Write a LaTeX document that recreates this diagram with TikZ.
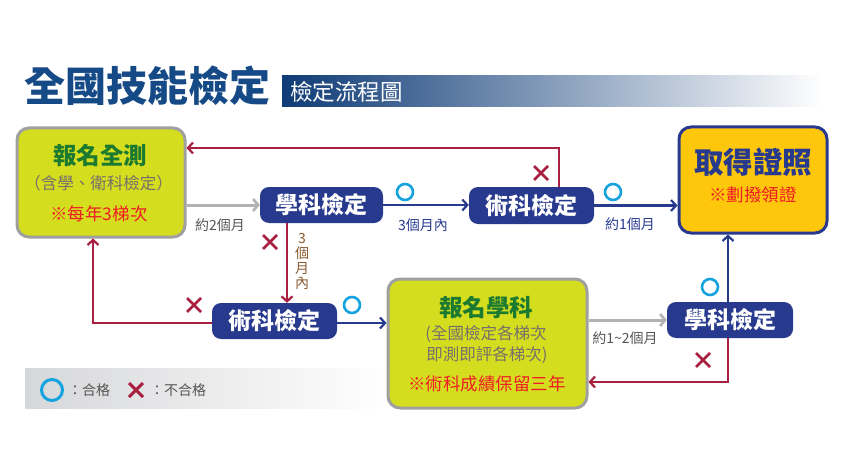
\documentclass[tikz,border=0pt]{standalone}
\usepackage{fontspec}
\setmainfont{Noto Sans CJK TC}
\newfontfamily\heavy{Noto Sans CJK TC Black}
\usetikzlibrary{arrows.meta}
\definecolor{navy}{HTML}{283A8E}
\definecolor{crim}{HTML}{A81F3F}
\definecolor{arrgray}{HTML}{B2B2B2}
\definecolor{cyanc}{HTML}{15A3E0}
\definecolor{lime}{HTML}{D5DD1F}
\definecolor{gold}{HTML}{FEC70C}
\definecolor{titleblue}{HTML}{164A86}
\definecolor{barleft}{HTML}{0E3B76}
\definecolor{barmid}{HTML}{6F89B5}
\definecolor{greentxt}{HTML}{1B7A2F}
\definecolor{redtxt}{HTML}{EE1C25}
\definecolor{subgray}{HTML}{77706A}
\definecolor{lblgray}{HTML}{555555}
\definecolor{brown}{HTML}{8A5A30}
\definecolor{legendgray}{HTML}{D6D7D9}
\newcommand{\fsz}[1]{\fontsize{#1}{#1}\selectfont}
\tikzset{
  bigbox/.style={rectangle, rounded corners=12pt, line width=3pt, inner sep=0pt},
  greenbox/.style={bigbox, draw=arrgray!90!black, fill=lime},
  certbox/.style={bigbox, draw=navy, fill=gold},
  stepbox/.style={rectangle, rounded corners=9pt, fill=navy, text=white, inner sep=0pt,
     minimum height=36pt, minimum width=124pt, font=\fsz{23}\bfseries},
  navyarrow/.style={draw=navy, line width=2.4pt, -{Straight Barb[length=5pt,width=11pt,line width=2.2pt]}},
  redarrow/.style={draw=crim, line width=2.4pt, -{Straight Barb[length=5pt,width=11pt,line width=2.2pt]}},
  grayarrow/.style={draw=arrgray, line width=3pt, -{Straight Barb[length=5pt,width=12pt,line width=2.6pt]}},
  okmark/.style={draw=cyanc, line width=2.6pt},
  lbl/.style={font=\fsz{14}, inner sep=0pt},
}
\newcommand{\failmark}[2]{\draw[crim, line width=2.8pt] (#1-7,#2-7) -- (#1+7,#2+7) (#1-7,#2+7) -- (#1+7,#2-7);}
\begin{document}
\begin{tikzpicture}[x=1pt,y=-1pt]
\useasboundingbox (0,0) rectangle (842,457);
% title
\node[anchor=west, inner sep=0pt, text=titleblue, font=\fsz{41}\heavy] (title) at (24,86) {全國技能檢定};
\shade[left color=barleft, middle color=barmid, right color=white] (282,76) rectangle (823,107);
\node[anchor=west, inner sep=0pt, text=white, font=\fsz{22.5}] (sub) at (290,92) {檢定流程圖};
% legend bar
\shade[left color=legendgray, right color=white] (25,368) rectangle (390,408);
\draw[okmark, line width=3pt] (52,390) circle (10.5pt);
\node[lbl, anchor=west, text=lblgray] (lg1) at (68,390) {：合格};
\draw[crim, line width=3pt] (129,383) -- (143,397) (129,397) -- (143,383);
\node[lbl, anchor=west, text=lblgray] (lg2) at (150,390) {：不合格};
% boxes
\node[greenbox, minimum width=168pt, minimum height=109pt] (b1) at (101,182.5) {};
\node[inner sep=0pt, text=greentxt, font=\fsz{23.5}\bfseries] (b1a) at (100,156) {報名全測};
\node[inner sep=0pt, text=subgray, font=\fsz{16.5}] (b1b) at (98.5,183) {（含學、衛科檢定）};
\node[inner sep=0pt, text=redtxt, font=\fsz{17.5}] (b1c) at (99,214) {※每年3梯次};

\node[certbox, minimum width=148pt, minimum height=106pt] (cert) at (753,180) {};
\node[inner sep=0pt, text=navy, font=\fsz{29.5}\bfseries] (certa) at (753,162) {取得證照};
\node[inner sep=0pt, text=redtxt, font=\fsz{17.5}] (certb) at (753,195) {※劃撥領證};

\node[greenbox, minimum width=199pt, minimum height=129pt] (b2) at (487.5,343.5) {};
\node[inner sep=0pt, text=greentxt, font=\fsz{23.5}\bfseries] (b2a) at (486,308) {報名學科};
\node[inner sep=0pt, text=subgray, font=\fsz{16.5}] (b2b) at (486,334) {(全國檢定各梯次};
\node[inner sep=0pt, text=subgray, font=\fsz{16.5}] (b2c) at (487,355) {即測即評各梯次)};
\node[inner sep=0pt, text=redtxt, font=\fsz{17.5}] (b2d) at (487,384) {※術科成績保留三年};

\node[stepbox, minimum width=123pt] (s1) at (321.5,205) {學科檢定};
\node[stepbox, minimum width=125pt, minimum height=37pt] (t1) at (531.5,205.5) {術科檢定};
\node[stepbox, minimum width=125pt] (t2) at (274.5,321) {術科檢定};
\node[stepbox, minimum width=126pt] (s2) at (730,320) {學科檢定};

\coordinate (c1) at (559,148);
\coordinate (c2) at (287,223);
\coordinate (c3) at (93,323);
\coordinate (c4) at (728,382);

% connectors
\draw[grayarrow] (b1.east |- s1.west) -- (s1.west);
\draw[navyarrow] (s1.east) -- (t1.west |- s1.east);
\draw[navyarrow] (t1.east) -- (cert.west |- t1.east);
\draw[redarrow] (t1.north -| c1) -- (c1) -- (b1.east |- c1);
\draw[redarrow] (s1.south -| c2) -- (t2.north -| c2);
\draw[redarrow] (t2.west |- c3) -- (c3) -- (b1.south -| c3);
\draw[navyarrow] (t2.east |- c3) -- (b2.west |- c3);
\draw[grayarrow] (b2.east |- s2.west) -- (s2.west);
\draw[navyarrow] (s2.north -| c4) -- (cert.south -| c4);
\draw[redarrow] (s2.south -| c4) -- (c4) -- (b2.east |- c4);

% labels
\node[lbl, text=lblgray] (l1) at (220,225) {約2個月};
\node[lbl, text=navy] (l2) at (423,225) {3個月內};
\node[lbl, text=navy] (l3) at (630,224) {約1個月};
\node[lbl, text=lblgray] (l4) at (625,338) {約1\char"7E\relax2個月};
\node[inner sep=0pt, text=brown, font=\fontsize{14}{15}\selectfont, align=center, text width=16pt] (l5) at (302,261) {3\\個\\月\\內};

% marks
\draw[okmark] (405,192) circle (8pt);
\draw[okmark] (613,192) circle (8pt);
\draw[okmark] (352,305) circle (8pt);
\draw[okmark] (710,287) circle (8pt);
\failmark{541}{173}
\failmark{270}{242}
\failmark{194}{305}
\failmark{703}{360}
\end{tikzpicture}
\end{document}
